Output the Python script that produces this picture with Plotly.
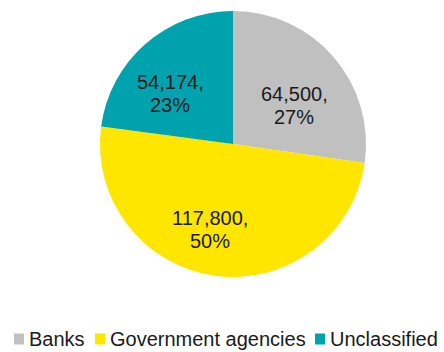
import math
import plotly.graph_objects as go

# Slice data
categories = ["Banks", "Government agencies", "Unclassified"]
values = [64500, 117800, 54174]
colors = ["#C0C0C0", "#FFE600", "#00A3AD"]

W, H = 444, 352
FONT = "Liberation Sans, Arial, sans-serif"
TXT = "#1a1a1a"

# Pie geometry in pixels (margins are zero, so paper == pixels)
CX, CY, R = 233, 144, 133
LABEL_K = 0.6
# small per-slice nudges of the data labels (px, +y downwards)
label_nudge = [(1, 14), (-12, 6), (-10, 10)]
# legend layout: left edge of each legend text (px)
legend_text_x = [29, 110, 330]
LEGEND_Y = 339


def px(x):
    return x / W


def py(y):
    return (H - y) / H


fig = go.Figure(
    go.Pie(
        labels=categories,
        values=values,
        sort=False,
        direction="clockwise",
        rotation=0,
        marker=dict(colors=colors, line=dict(width=0)),
        textinfo="none",
        hoverinfo="label+value+percent",
        showlegend=False,
        domain=dict(x=[px(CX - R), px(CX + R)], y=[py(CY + R), py(CY - R)]),
    )
)

total = sum(values)
annotations = []
shapes = []
cum = 0
for i, v in enumerate(values):
    mid = (cum + v / 2) / total * 2 * math.pi
    cum += v
    x = CX + LABEL_K * R * math.sin(mid) + label_nudge[i][0]
    y = CY - LABEL_K * R * math.cos(mid) + label_nudge[i][1]
    pct = round(100 * v / total)
    for line, dy in ((f"{v:,},", -11.5), (f"{pct}%", 11.5)):
        annotations.append(dict(
            x=px(x), y=py(y + dy), xref="paper", yref="paper",
            text=line, showarrow=False, xanchor="center", yanchor="middle",
            font=dict(family=FONT, size=20, color=TXT),
        ))

# Legend: colour squares plus labels along the bottom
for name, col, tx in zip(categories, colors, legend_text_x):
    shapes.append(dict(
        type="rect", xref="paper", yref="paper",
        x0=px(tx - 15), x1=px(tx - 5),
        y0=py(LEGEND_Y + 5.5), y1=py(LEGEND_Y - 5.5),
        fillcolor=col, line=dict(width=0),
    ))
    annotations.append(dict(
        x=px(tx - 2), y=py(LEGEND_Y), xref="paper", yref="paper",
        text=name, showarrow=False, xanchor="left", yanchor="middle",
        font=dict(family=FONT, size=20, color=TXT),
    ))

fig.update_layout(
    width=W,
    height=H,
    margin=dict(l=0, r=0, t=0, b=0),
    paper_bgcolor="white",
    plot_bgcolor="white",
    showlegend=False,
    annotations=annotations,
    shapes=shapes,
)

fig.write_html("out.html")
